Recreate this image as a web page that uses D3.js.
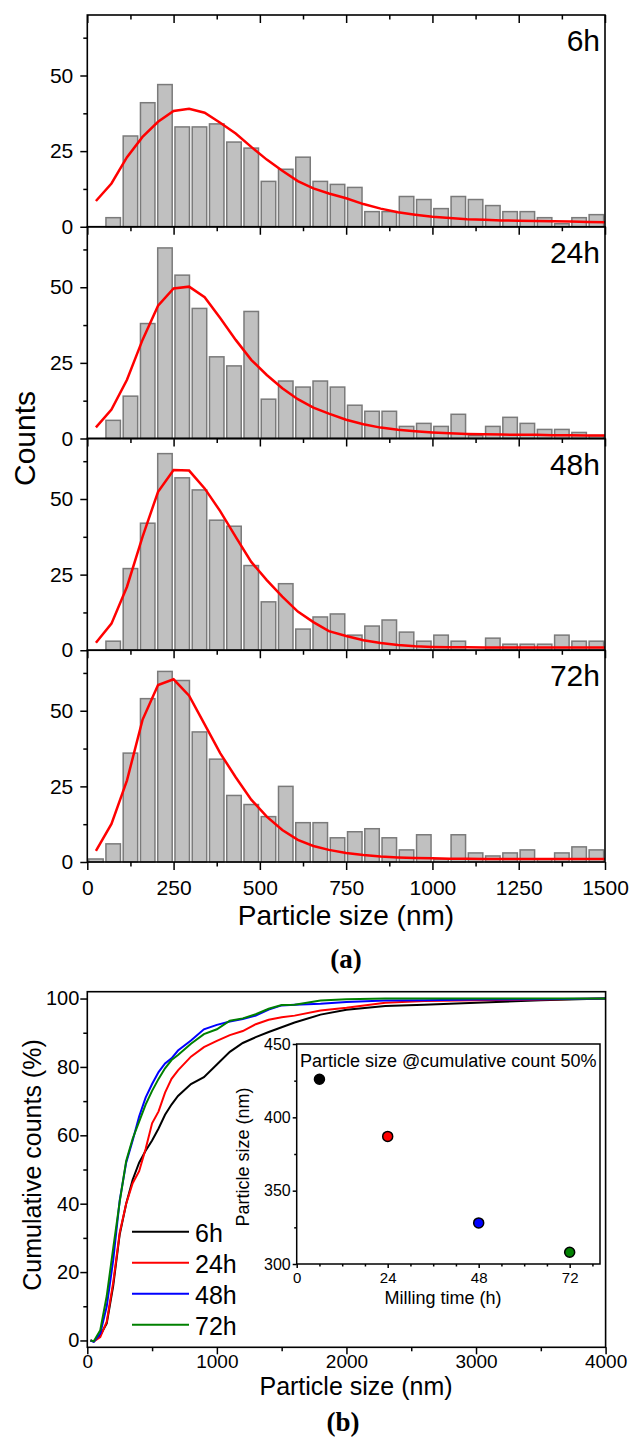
<!DOCTYPE html>
<html>
<head>
<meta charset="utf-8">
<script src="https://cdn.jsdelivr.net/npm/d3@7"></script>
<style>
  body { margin: 0; background: #fff; }
  text { font-family: "Liberation Sans", Arial, sans-serif; fill: #000; }
  .axis path.domain { display: none; }
  .axis line { stroke: #000; stroke-width: 1.5; }
</style>
</head>
<body>
<div id="wrapper"></div>
<script>
// ---- data (a): histograms, bins of 50 nm ----
const binCenters = [25, 75, 125, 175, 225, 275, 325, 375, 425, 475, 525, 575, 625, 675, 725,
  775, 825, 875, 925, 975, 1025, 1075, 1125, 1175, 1225, 1275, 1325, 1375, 1425, 1475];
const counts6h = [0, 3, 30, 41, 47, 33, 33, 34, 28, 26, 15, 19, 23, 15, 14, 13, 5, 5, 10, 9, 6, 10, 9, 7, 5, 5, 3, 1, 3, 4];
const counts24h = [0, 6, 14, 38, 63, 54, 43, 27, 24, 42, 13, 19, 17, 19, 17, 11, 9, 9, 4, 5, 4, 8, 1, 4, 7, 5, 3, 3, 2, 1];
const counts48h = [0, 3, 27, 42, 65, 57, 53, 43, 41, 28, 16, 22, 7, 11, 12, 5, 8, 10, 6, 3, 5, 3, 0, 4, 2, 2, 2, 5, 3, 3];
const counts72h = [1, 6, 36, 54, 63, 60, 43, 34, 22, 19, 15, 25, 13, 13, 8, 10, 11, 8, 4, 9, 1, 9, 3, 2, 3, 4, 1, 3, 5, 4];

// fitted curves (red)
const fitX = [25, 70, 115, 160, 205, 250, 295, 340, 385, 430, 475, 520, 565, 610, 655, 700,
  750, 800, 850, 900, 950, 1000, 1050, 1100, 1150, 1200, 1250, 1300, 1350, 1400, 1450, 1500];
const fit6h = [8.5, 14.3, 23, 29.7, 34.7, 38.3, 39, 37.7, 34.4, 30.8, 26.4, 22.2, 18.5, 15.1, 12.7, 11,
  9.4, 7.5, 6, 4.8, 4, 3.3, 2.9, 2.5, 2.3, 2.1, 2, 1.9, 1.8, 1.7, 1.6, 1.5];
const fit24h = [3.7, 9.6, 19.4, 32.6, 43.9, 49.6, 50.2, 46.7, 39.8, 32.6, 26, 21, 16.6, 13, 10.2, 8.2,
  6.2, 4.7, 3.6, 2.9, 2.4, 2, 1.7, 1.5, 1.4, 1.3, 1.2, 1.2, 1.1, 1.1, 1, 1];
const fit48h = [2.5, 8.8, 21, 37.5, 52.4, 59.6, 59.4, 53.5, 46, 37.5, 29.2, 23.2, 17.7, 12.8, 9.3, 6.3,
  4.7, 3.3, 2.4, 1.7, 1.3, 1.1, 1, 1, 0.9, 0.9, 0.9, 0.9, 0.9, 0.9, 0.9, 0.9];
const fit72h = [3.7, 12.6, 27, 47, 58.5, 60.4, 55, 45.5, 36, 28, 20.6, 15, 10.6, 7.3, 5.3, 4,
  3, 2.3, 1.8, 1.5, 1.3, 1.2, 1.1, 1.1, 1, 1, 1, 1, 1, 1, 1, 1];

const millLabels = ['6h', '24h', '48h', '72h'];

// ---- data (b): cumulative counts (%) ----
const cumSize = [25, 50, 100, 150, 200, 250, 300, 350, 400, 450, 500, 550, 600, 650, 700, 800, 900,
  1000, 1100, 1200, 1300, 1400, 1500, 1600, 1800, 2000, 2300, 2600, 3000, 3500, 4000];
const cum6h = [0, -0.3, 1.5, 5, 16, 31, 40, 47, 52, 55.5, 58.5, 62, 66, 69, 71.5, 75, 77,
  80.7, 84.4, 87, 88.7, 90.2, 91.6, 93, 95.3, 96.7, 97.8, 98.2, 98.8, 99.5, 100];
const cum24h = [0, -0.3, 1, 5.5, 17, 31.5, 40, 46, 49.5, 56, 63.5, 67, 72.5, 76.5, 79, 83, 85.8,
  87.6, 89.3, 90.5, 92.5, 93.8, 94.5, 95, 96.5, 97.3, 98.8, 99.3, 99.5, 99.7, 100];
const cum48h = [0, -0.4, 2, 10, 23.5, 41, 52, 58.5, 65.5, 71, 75, 78.5, 81, 82.5, 84.8, 87.7, 91,
  92.3, 93.3, 94, 95, 96.8, 98, 98.2, 98.5, 99, 99.4, 99.5, 99.7, 99.8, 100];
const cum72h = [0, -0.2, 3, 13, 27, 40.5, 52.5, 59, 64, 69, 73, 76.5, 79.6, 82, 83.5, 86.8, 89.6,
  91, 93.5, 94.2, 95.4, 97, 98.1, 98.2, 99.4, 99.8, 100, 100, 100, 100, 100];
const cumColors = ['#000000', '#ff0000', '#0000ff', '#008000'];

// inset: particle size at 50 % cumulative count
const millTime = [6, 24, 48, 72];
const d50 = [426, 387, 328, 308];

// ---- canvas ----
const width = 632;
const height = 1440;
const fmt = d3.format('d');
const svg = d3.select('#wrapper').append('svg')
  .attr('width', width).attr('height', height);

// ===== panel (a) =====
const a = { left: 87.3, right: 605, top: 15, bottom: 862 };
const panelH = (a.bottom - a.top) / 4;
const xA = d3.scaleLinear().domain([0, 1500]).range([a.left, a.right]);
const binPx = xA(50) - xA(0);

const histCounts = [counts6h, counts24h, counts48h, counts72h];
const fits = [fit6h, fit24h, fit48h, fit72h];

histCounts.forEach((cnt, i) => {
  const top = a.top + i * panelH;
  const yA = d3.scaleLinear().domain([0, 70]).range([top + panelH, top]);
  const g = svg.append('g');

  // bars
  g.selectAll('rect.bar')
    .data(binCenters.map((c, k) => ({ c, v: cnt[k] })).filter(d => d.v > 0))
    .join('rect')
    .attr('class', 'bar')
    .attr('x', d => xA(d.c) - binPx * 0.42)
    .attr('width', binPx * 0.84)
    .attr('y', d => yA(d.v))
    .attr('height', d => yA(0) - yA(d.v))
    .attr('fill', '#c0c0c0')
    .attr('stroke', '#7a7a7a')
    .attr('stroke-width', 1.5);

  // fit line
  const line = d3.line().x((d, k) => xA(fitX[k])).y(d => yA(d));
  g.append('path')
    .datum(fits[i])
    .attr('d', line)
    .attr('fill', 'none')
    .attr('stroke', '#ff0000')
    .attr('stroke-width', 2.5);

  // left axis
  g.append('g').attr('class', 'axis')
    .attr('transform', `translate(${a.left},0)`)
    .call(d3.axisLeft(yA).tickValues([0, 25, 50]).tickSize(7).tickPadding(7).tickFormat(fmt))
    .selectAll('text').style('font-size', '21px');
  g.append('g').attr('class', 'axis')
    .attr('transform', `translate(${a.left},0)`)
    .call(d3.axisLeft(yA).tickValues([12.5, 37.5, 62.5]).tickSize(4).tickFormat(''));

  // ticks on the top edge (pointing into panel)
  g.append('g').attr('class', 'axis')
    .attr('transform', `translate(0,${top})`)
    .call(d3.axisBottom(xA).tickValues([0, 250, 500, 750, 1000, 1250, 1500]).tickSize(8).tickFormat(''));
  g.append('g').attr('class', 'axis')
    .attr('transform', `translate(0,${top})`)
    .call(d3.axisBottom(xA).tickValues([125, 375, 625, 875, 1125, 1375]).tickSize(4.5).tickFormat(''));

  // label
  g.append('text')
    .attr('x', 600)
    .attr('y', top + 36)
    .attr('text-anchor', 'end')
    .style('font-size', '30px')
    .text(millLabels[i]);

  // frame
  g.append('rect')
    .attr('x', a.left).attr('y', top)
    .attr('width', a.right - a.left).attr('height', panelH)
    .attr('fill', 'none').attr('stroke', '#000').attr('stroke-width', 1.6);
});

// bottom axis of (a)
svg.append('g').attr('class', 'axis')
  .attr('transform', `translate(0,${a.bottom})`)
  .call(d3.axisBottom(xA).tickValues([0, 250, 500, 750, 1000, 1250, 1500]).tickSize(8).tickPadding(10).tickFormat(fmt))
  .selectAll('text').style('font-size', '21px');
svg.append('g').attr('class', 'axis')
  .attr('transform', `translate(0,${a.bottom})`)
  .call(d3.axisBottom(xA).tickValues([125, 375, 625, 875, 1125, 1375]).tickSize(4.5).tickFormat(''));

svg.append('text')
  .attr('transform', `translate(35,${(a.top + a.bottom) / 2}) rotate(-90)`)
  .attr('text-anchor', 'middle')
  .style('font-size', '30px')
  .text('Counts');

svg.append('text')
  .attr('x', 346).attr('y', 925)
  .attr('text-anchor', 'middle')
  .style('font-size', '28px')
  .text('Particle size (nm)');

svg.append('text')
  .attr('x', 346).attr('y', 968)
  .attr('text-anchor', 'middle')
  .style('font-family', '"Liberation Serif", "Times New Roman", serif')
  .style('font-weight', 'bold')
  .style('font-size', '27px')
  .text('(a)');

// ===== panel (b) =====
const b = { left: 87.3, right: 605.6, top: 991.7, bottom: 1347.3 };
const xB = d3.scaleLinear().domain([0, 4000]).range([b.left, b.right]);
const yB = d3.scaleLinear().domain([-2, 102]).range([b.bottom, b.top]);

const cumSeries = [cum6h, cum24h, cum48h, cum72h];
const cumLine = d3.line().x((d, k) => xB(cumSize[k])).y(d => yB(d));
cumSeries.forEach((s, i) => {
  svg.append('path')
    .datum(s)
    .attr('d', cumLine)
    .attr('fill', 'none')
    .attr('stroke', cumColors[i])
    .attr('stroke-width', 2);
});

svg.append('g').attr('class', 'axis')
  .attr('transform', `translate(${b.left},0)`)
  .call(d3.axisLeft(yB).tickValues([0, 20, 40, 60, 80, 100]).tickSize(7).tickPadding(1).tickFormat(fmt))
  .selectAll('text').style('font-size', '20px');
svg.append('g').attr('class', 'axis')
  .attr('transform', `translate(${b.left},0)`)
  .call(d3.axisLeft(yB).tickValues([10, 30, 50, 70, 90]).tickSize(4).tickFormat(''));
svg.append('g').attr('class', 'axis')
  .attr('transform', `translate(0,${b.bottom})`)
  .call(d3.axisBottom(xB).tickValues([0, 1000, 2000, 3000, 4000]).tickSize(7).tickPadding(0).tickFormat(fmt))
  .selectAll('text').style('font-size', '19px');
svg.append('g').attr('class', 'axis')
  .attr('transform', `translate(0,${b.bottom})`)
  .call(d3.axisBottom(xB).tickValues([500, 1500, 2500, 3500]).tickSize(4).tickFormat(''));

svg.append('rect')
  .attr('x', b.left).attr('y', b.top)
  .attr('width', b.right - b.left).attr('height', b.bottom - b.top)
  .attr('fill', 'none').attr('stroke', '#000').attr('stroke-width', 1.6);

svg.append('text')
  .attr('transform', `translate(41,1165) rotate(-90)`)
  .attr('text-anchor', 'middle')
  .style('font-size', '25px')
  .text('Cumulative counts (%)');

svg.append('text')
  .attr('x', 356).attr('y', 1395)
  .attr('text-anchor', 'middle')
  .style('font-size', '25px')
  .text('Particle size (nm)');

svg.append('text')
  .attr('x', 343).attr('y', 1431)
  .attr('text-anchor', 'middle')
  .style('font-family', '"Liberation Serif", "Times New Roman", serif')
  .style('font-weight', 'bold')
  .style('font-size', '27px')
  .text('(b)');

// legend
const legend = svg.append('g').attr('id', 'legend');
millLabels.forEach((lab, i) => {
  const ly = 1231.7 + i * 31;
  legend.append('line')
    .attr('x1', 132).attr('x2', 189)
    .attr('y1', ly).attr('y2', ly)
    .attr('stroke', cumColors[i]).attr('stroke-width', 2);
  legend.append('text')
    .attr('x', 195).attr('y', ly + 10)
    .style('font-size', '25px')
    .text(lab);
});

// ===== inset =====
const ins = { left: 296.7, right: 600, top: 1044, bottom: 1264 };
const xI = d3.scaleLinear().domain([0, 80]).range([ins.left, ins.right]);
const yI = d3.scaleLinear().domain([300, 450]).range([ins.bottom, ins.top]);

svg.append('rect')
  .attr('x', ins.left).attr('y', ins.top)
  .attr('width', ins.right - ins.left).attr('height', ins.bottom - ins.top)
  .attr('fill', '#fff').attr('stroke', '#000').attr('stroke-width', 1.5);

svg.append('g').attr('class', 'axis')
  .attr('transform', `translate(${ins.left},0)`)
  .call(d3.axisLeft(yI).tickValues([300, 350, 400, 450]).tickSize(4).tickPadding(2))
  .selectAll('text').style('font-size', '16px');
svg.append('g').attr('class', 'axis')
  .attr('transform', `translate(${ins.left},0)`)
  .call(d3.axisLeft(yI).tickValues([325, 375, 425]).tickSize(2.5).tickFormat(''));
svg.append('g').attr('class', 'axis')
  .attr('transform', `translate(0,${ins.bottom})`)
  .call(d3.axisBottom(xI).tickValues([0, 24, 48, 72]).tickSize(4).tickPadding(4))
  .selectAll('text').style('font-size', '15px');
svg.append('g').attr('class', 'axis')
  .attr('transform', `translate(0,${ins.bottom})`)
  .call(d3.axisBottom(xI).tickValues([6, 12, 18, 30, 36, 42, 54, 60, 66, 78]).tickSize(2.5).tickFormat(''));

svg.selectAll('circle.d50')
  .data(millTime)
  .join('circle')
  .attr('class', 'd50')
  .attr('cx', d => xI(d))
  .attr('cy', (d, k) => yI(d50[k]))
  .attr('r', 5)
  .attr('fill', (d, k) => cumColors[k])
  .attr('stroke', '#000')
  .attr('stroke-width', 1.5);

svg.append('text')
  .attr('x', 300).attr('y', 1067)
  .style('font-size', '18px')
  .text('Particle size @cumulative count 50%');

svg.append('text')
  .attr('transform', `translate(249,1157) rotate(-90)`)
  .attr('text-anchor', 'middle')
  .style('font-size', '18px')
  .text('Particle size (nm)');

svg.append('text')
  .attr('x', 443).attr('y', 1304)
  .attr('text-anchor', 'middle')
  .style('font-size', '18px')
  .text('Milling time (h)');
</script>
</body>
</html>
